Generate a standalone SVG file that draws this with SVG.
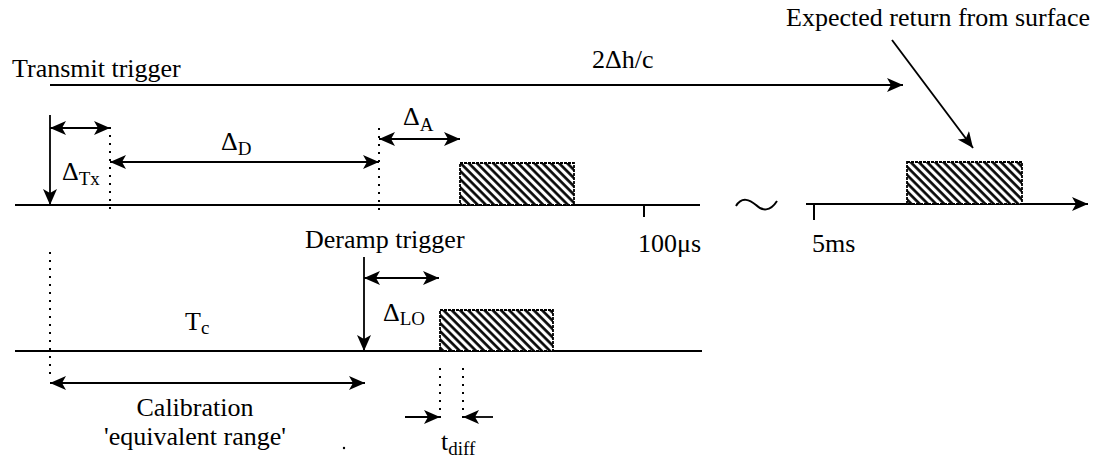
<svg xmlns="http://www.w3.org/2000/svg" width="1093" height="466" viewBox="0 0 1093 466" font-family="'Liberation Serif', 'Times New Roman', 'DejaVu Serif', serif">
<style>
text{font-family:'Liberation Serif','Times New Roman','DejaVu Serif',serif;fill:#000;font-size:26px}
.sub{font-size:19px}
.ln{stroke:#000;stroke-width:2;fill:none}
.ar{stroke:#000;stroke-width:1.8;fill:none}
.dot{stroke:#000;stroke-width:2;stroke-dasharray:2 6;fill:none}
.box{fill:url(#hatch);stroke:#000;stroke-width:1.8;stroke-dasharray:3 1}
</style>
<defs>
<marker id="ah" markerUnits="userSpaceOnUse" markerWidth="18" markerHeight="16" refX="16" refY="7" orient="auto-start-reverse">
<path d="M0,0 L16,7 L0,14 L4,7 z" fill="#000"/>
</marker>
<pattern id="hatch" patternUnits="userSpaceOnUse" width="5.8" height="10" patternTransform="rotate(-45)">
<rect width="5.8" height="10" fill="#fff"/>
<line x1="1.5" y1="0" x2="1.5" y2="10" stroke="#000" stroke-width="2.6"/>
</pattern>
</defs>
<rect width="1093" height="466" fill="#fff"/>

<g id="timeline-top">
<line class="ln" x1="15" y1="205" x2="700" y2="205"/>
<line class="ln" x1="644" y1="205" x2="644" y2="217"/>
<text x="638" y="252">100μs</text>
<path class="ln" d="M736,206 C742,196 750,200 756,205 C762,211 770,212 777,201" stroke-width="1.8"/>
</g>
<g id="timeline-right">
<line class="ln" x1="806" y1="204" x2="1088" y2="204" marker-end="url(#ah)"/>
<line class="ln" x1="814" y1="204" x2="814" y2="220"/>
<text x="812" y="252">5ms</text>
</g>
<g id="timeline-bottom">
<line class="ln" x1="15" y1="351" x2="702" y2="351"/>
</g>

<g id="pulse-a"><rect class="box" x="460" y="163" width="114" height="42"/></g>
<g id="pulse-surface"><rect class="box" x="907" y="162" width="115" height="42"/></g>
<g id="pulse-lo"><rect class="box" x="440" y="310" width="113" height="41"/></g>

<g id="label-transmit"><text x="12" y="77">Transmit trigger</text></g>
<g id="label-2dh"><text x="592" y="68">2Δh/c</text></g>
<g id="label-expected"><text x="1090" y="26" text-anchor="end">Expected return from surface</text></g>
<g id="label-dtx"><text x="62" y="180">Δ<tspan class="sub" dy="5">Tx</tspan></text></g>
<g id="label-dd"><text x="221" y="150">Δ<tspan class="sub" dy="5">D</tspan></text></g>
<g id="label-da"><text x="403" y="125">Δ<tspan class="sub" dy="6">A</tspan></text></g>
<g id="label-deramp"><text x="305" y="248">Deramp trigger</text></g>
<g id="label-tc"><text x="185" y="330">T<tspan class="sub" dy="4">c</tspan></text></g>
<g id="label-dlo"><text x="383" y="321">Δ<tspan class="sub" dy="4">LO</tspan></text></g>
<g id="label-calib"><text x="195" y="416" text-anchor="middle">Calibration</text><text x="195" y="445" text-anchor="middle">'equivalent range'</text></g>
<g id="label-tdiff"><text x="441" y="450">t<tspan class="sub" dy="5">diff</tspan></text></g>

<g id="connectors">
<line class="ar" x1="50" y1="85" x2="903" y2="85" marker-end="url(#ah)"/>
<line class="ar" x1="50" y1="115" x2="50" y2="205" marker-end="url(#ah)"/>
<line class="ar" x1="50" y1="128" x2="110" y2="128" marker-start="url(#ah)" marker-end="url(#ah)"/>
<line class="dot" x1="110" y1="127" x2="110" y2="214"/>
<line class="ar" x1="110" y1="162" x2="379" y2="162" marker-start="url(#ah)" marker-end="url(#ah)"/>
<line class="dot" x1="379" y1="128" x2="379" y2="214"/>
<line class="ar" x1="379" y1="139" x2="460" y2="139" marker-start="url(#ah)" marker-end="url(#ah)"/>
<line class="ar" x1="892" y1="40" x2="973" y2="148" marker-end="url(#ah)"/>
<line class="dot" x1="50" y1="252" x2="50" y2="374"/>
<line class="ar" x1="364" y1="257" x2="364" y2="351" marker-end="url(#ah)"/>
<line class="ar" x1="364" y1="278" x2="439" y2="278" marker-start="url(#ah)" marker-end="url(#ah)"/>
<line class="ar" x1="50" y1="383" x2="365" y2="383" marker-start="url(#ah)" marker-end="url(#ah)"/>
<line class="dot" x1="440" y1="368" x2="440" y2="421"/>
<line class="dot" x1="463" y1="368" x2="463" y2="421"/>
<line class="ar" x1="405" y1="417" x2="440" y2="417" marker-end="url(#ah)"/>
<line class="ar" x1="493" y1="417" x2="463" y2="417" marker-end="url(#ah)"/>
</g>
<circle cx="344" cy="448" r="1.2" fill="#000"/>
</svg>
